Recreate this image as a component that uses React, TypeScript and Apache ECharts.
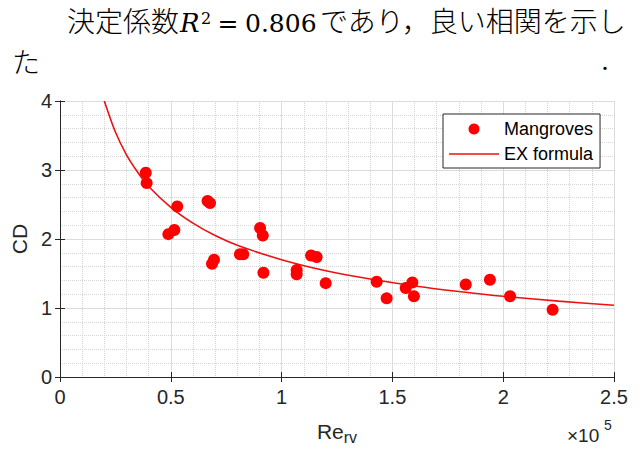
import React, { useEffect, useRef } from "react";
import * as echarts from "echarts";

// Measured points (Re_rv in units of 1e5, CD)
const RE_RV = [0.387, 0.391, 0.529, 0.489, 0.516, 0.666, 0.677, 0.695, 0.686, 0.812, 0.827, 0.903, 0.915, 0.918, 1.068, 1.068, 1.133, 1.158, 1.199, 1.429, 1.474, 1.56, 1.59, 1.597, 1.831, 1.94, 2.031, 2.223];
const CD_VALUES = [2.96, 2.81, 2.47, 2.07, 2.13, 2.55, 2.52, 1.7, 1.64, 1.78, 1.78, 2.16, 2.05, 1.51, 1.55, 1.49, 1.76, 1.74, 1.36, 1.38, 1.14, 1.29, 1.37, 1.17, 1.34, 1.41, 1.17, 0.975];

// EX formula curve
const EX_X = [0.2, 0.25, 0.3, 0.35, 0.4, 0.5, 0.6, 0.7, 0.8, 1.0, 1.2, 1.4, 1.6, 1.8, 2.0, 2.25, 2.5];
const EX_Y = [4.0, 3.55, 3.22, 2.97, 2.76, 2.46, 2.23, 2.05, 1.91, 1.7, 1.54, 1.42, 1.32, 1.24, 1.17, 1.1, 1.04];

const SERIES_NAMES = ["Mangroves", "EX formula"];
const X_RANGE = [0, 2.5];
const Y_RANGE = [0, 4];
const X_STEP = 0.5;
const Y_STEP = 1;

const TEXT_LINE1_A = "決定係数";
const TEXT_R = "R";
const TEXT_SUP = "2";
const TEXT_EQ = "=";
const TEXT_VAL = "0.806";
const TEXT_LINE1_B = "であり，良い相関を示し";
const TEXT_LINE2 = "た";
const TEXT_END = ".";

const AXIS_COLOR = "#262626";
const RED = "#ff0000";
const LINE_RED = "#ee1111";
const SANS = "Liberation Sans, Arial, Helvetica, sans-serif";
const CJK = "Noto Sans CJK JP, sans-serif";
const SERIF = "DejaVu Serif, serif";

export default function App() {
  const ref = useRef<HTMLDivElement>(null);

  useEffect(() => {
    document.body.style.margin = "0";
    const chart = echarts.init(ref.current!, null, { renderer: "svg" });

    const baseAxis = {
      type: "value" as const,
      axisLine: { show: true, lineStyle: { color: AXIS_COLOR, width: 1 } },
      axisTick: { show: true, inside: true, length: 5, lineStyle: { color: AXIS_COLOR } },
      minorTick: { show: false, splitNumber: 5 },
    };

    chart.setOption({
      animation: false,
      backgroundColor: "#ffffff",
      textStyle: { fontFamily: SANS },
      grid: { left: 60, right: 29, top: 101, bottom: 71, containLabel: false },
      xAxis: [
        {
          ...baseAxis,
          min: X_RANGE[0],
          max: X_RANGE[1],
          interval: X_STEP,
          position: "bottom",
          axisLabel: {
            color: AXIS_COLOR,
            fontSize: 20,
            margin: 10,
            fontFamily: SANS,
            formatter: (v: number) => String(v),
          },
          splitLine: { show: true, lineStyle: { color: "#dcdcdc", width: 1 } },
          minorSplitLine: { show: true, lineStyle: { color: "#d4d4d4", type: "dotted", width: 1 } },
          name: "{a|Re}{b|rv}",
          nameLocation: "middle",
          nameGap: 40,
          nameTextStyle: {
            color: AXIS_COLOR,
            rich: {
              a: { fontSize: 21, fontFamily: SANS, color: AXIS_COLOR },
              b: { fontSize: 16, fontFamily: SANS, color: AXIS_COLOR, padding: [12, 0, 0, 0] },
            },
          },
        },
        {
          ...baseAxis,
          min: X_RANGE[0],
          max: X_RANGE[1],
          interval: X_STEP,
          position: "top",
          axisLabel: { show: false },
          splitLine: { show: false },
        },
      ],
      yAxis: [
        {
          ...baseAxis,
          min: Y_RANGE[0],
          max: Y_RANGE[1],
          interval: Y_STEP,
          position: "left",
          axisLabel: { color: AXIS_COLOR, fontSize: 20, margin: 8, fontFamily: SANS },
          splitLine: { show: true, lineStyle: { color: "#dcdcdc", width: 1 } },
          minorSplitLine: { show: true, lineStyle: { color: "#d4d4d4", type: "dotted", width: 1 } },
          name: "CD",
          nameLocation: "middle",
          nameGap: 27,
          nameRotate: 90,
          nameTextStyle: { color: AXIS_COLOR, fontSize: 21, fontFamily: SANS },
        },
        {
          ...baseAxis,
          min: Y_RANGE[0],
          max: Y_RANGE[1],
          interval: Y_STEP,
          position: "right",
          axisLabel: { show: false },
          splitLine: { show: false },
        },
      ],
      legend: {
        data: [
          { name: SERIES_NAMES[0], icon: "circle" },
          { name: SERIES_NAMES[1], icon: "path://M0,0H50V1.6H0Z" },
        ],
        orient: "vertical",
        left: 443,
        top: 114,
        itemWidth: 50,
        itemHeight: 11,
        itemGap: 7,
        itemTextGap: 5,
        padding: [6, 7, 5, 6],
        borderColor: AXIS_COLOR,
        borderWidth: 1,
        backgroundColor: "#ffffff",
        textStyle: { fontSize: 18, color: "#000000", fontFamily: SANS },
      },
      series: [
        {
          name: SERIES_NAMES[0],
          type: "scatter",
          symbol: "circle",
          symbolSize: 12,
          itemStyle: { color: RED, opacity: 1 },
          data: RE_RV.map((x, i) => [x, CD_VALUES[i]]),
          z: 3,
        },
        {
          name: SERIES_NAMES[1],
          type: "line",
          symbol: "none",
          smooth: 0.3,
          lineStyle: { color: LINE_RED, width: 1.6 },
          itemStyle: { color: LINE_RED },
          data: EX_X.map((x, i) => [x, EX_Y[i]]),
          z: 2,
        },
      ],
      graphic: [
        { type: "text", x: 67, y: 20, style: { text: TEXT_LINE1_A, fontSize: 28, fontWeight: 300, fontFamily: CJK, fill: "#000", align: "left", verticalAlign: "middle" } },
        { type: "text", x: 180, y: 23, style: { text: TEXT_R, fontSize: 26, fontFamily: SERIF, fontStyle: "italic", fill: "#000", align: "left", verticalAlign: "middle" } },
        { type: "text", x: 201, y: 18, style: { text: TEXT_SUP, fontSize: 16, fontFamily: SERIF, fill: "#000", align: "left", verticalAlign: "middle" } },
        { type: "text", x: 228, y: 23, style: { text: TEXT_EQ, fontSize: 25, fontFamily: SERIF, fill: "#000", align: "center", verticalAlign: "middle" } },
        { type: "text", x: 245, y: 23, style: { text: TEXT_VAL, fontSize: 25, fontFamily: SERIF, fill: "#000", align: "left", verticalAlign: "middle" } },
        { type: "text", x: 320, y: 20, style: { text: TEXT_LINE1_B, fontSize: 28, fontWeight: 300, fontFamily: CJK, fill: "#000", align: "left", verticalAlign: "middle" } },
        { type: "text", x: 12, y: 61, style: { text: TEXT_LINE2, fontSize: 28, fontWeight: 300, fontFamily: CJK, fill: "#000", align: "left", verticalAlign: "middle" } },
        { type: "text", x: 605, y: 61, style: { text: TEXT_END, fontSize: 25, fontFamily: SERIF, fill: "#000", align: "center", verticalAlign: "middle" } },
        { type: "text", x: 567, y: 435, style: { text: "×10", fontSize: 19, fontFamily: SANS, fill: AXIS_COLOR, align: "left", verticalAlign: "middle" } },
        { type: "text", x: 604, y: 425, style: { text: "5", fontSize: 14, fontFamily: SANS, fill: AXIS_COLOR, align: "left", verticalAlign: "middle" } },
      ],
    });

    return () => chart.dispose();
  }, []);

  return <div ref={ref} style={{ position: "fixed", left: 0, top: 0, width: 643, height: 450 }} />;
}
